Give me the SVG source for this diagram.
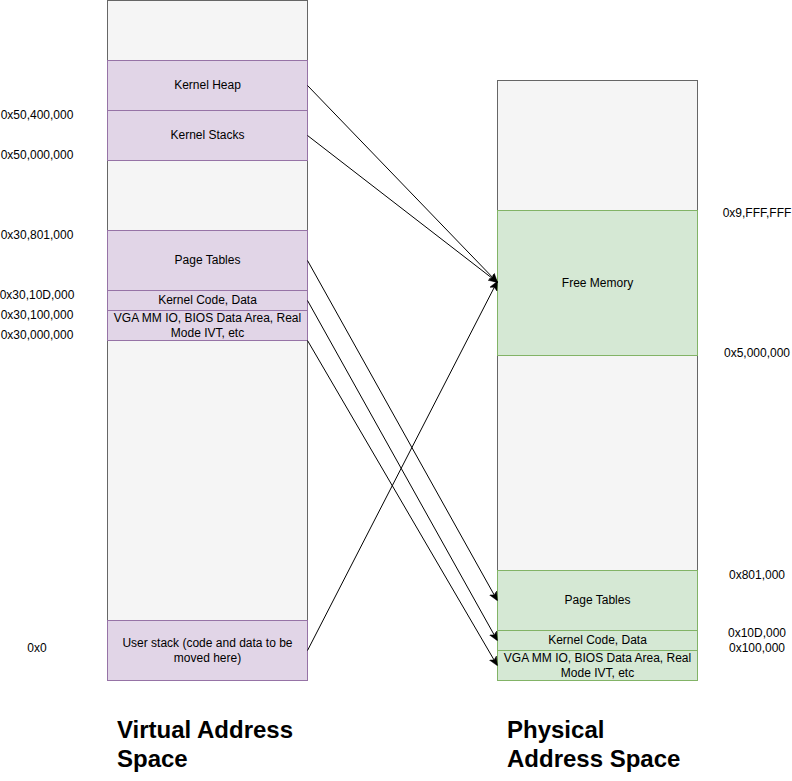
<svg xmlns="http://www.w3.org/2000/svg" width="792" height="781" viewBox="0 0 792 781">
<style>
text{font-family:"Liberation Sans",Arial,sans-serif;font-size:12px;fill:#000}
.c{text-anchor:middle}
.g{fill:#f5f5f5;stroke:#666666}
.p{fill:#e1d5e7;stroke:#9673a6}
.v{fill:#d5e8d4;stroke:#82b366}
.t{font-size:24px;font-weight:bold}
.e{fill:none;stroke:#000;stroke-width:1;marker-end:url(#a)}
</style>
<defs>
<marker id="a" viewBox="0 0 10 10" refX="9" refY="5" markerWidth="9" markerHeight="9" orient="auto" markerUnits="userSpaceOnUse">
<path d="M0,0.5 L10,5 L0,9.5 L2.5,5 Z" fill="#000" stroke="#000" stroke-width="0.5"/>
</marker>
</defs>
<g id="virtual">
<rect class="g" x="107.5" y="0.5" width="200" height="680"/>
</g>
<g id="v-heap"><rect class="p" x="107.5" y="60.5" width="200" height="50"/><text class="c" x="207.5" y="89">Kernel Heap</text></g>
<g id="v-stacks"><rect class="p" x="107.5" y="110.5" width="200" height="50"/><text class="c" x="207.5" y="139">Kernel Stacks</text></g>
<g id="v-pt"><rect class="p" x="107.5" y="230.5" width="200" height="60"/><text class="c" x="207.5" y="264">Page Tables</text></g>
<g id="v-kcode"><rect class="p" x="107.5" y="290.5" width="200" height="20"/><text class="c" x="207.5" y="304">Kernel Code, Data</text></g>
<g id="v-vga"><rect class="p" x="107.5" y="310.5" width="200" height="30"/><text class="c" x="207.5" y="322">VGA MM IO, BIOS Data Area, Real</text><text class="c" x="207.5" y="337">Mode IVT, etc</text></g>
<g id="v-user"><rect class="p" x="107.5" y="620.5" width="200" height="60"/><text class="c" x="207.5" y="647">User stack (code and data to be</text><text class="c" x="207.5" y="662">moved here)</text></g>

<g id="physical">
<rect class="g" x="497.5" y="80.5" width="200" height="600"/>
</g>
<g id="p-free"><rect class="v" x="497.5" y="210.5" width="200" height="145"/><text class="c" x="597.5" y="287">Free Memory</text></g>
<g id="p-pt"><rect class="v" x="497.5" y="570.5" width="200" height="60"/><text class="c" x="597.5" y="604">Page Tables</text></g>
<g id="p-kcode"><rect class="v" x="497.5" y="630.5" width="200" height="20"/><text class="c" x="597.5" y="644">Kernel Code, Data</text></g>
<g id="p-vga"><rect class="v" x="497.5" y="650.5" width="200" height="30"/><text class="c" x="597.5" y="662">VGA MM IO, BIOS Data Area, Real</text><text class="c" x="597.5" y="677">Mode IVT, etc</text></g>

<g id="labels">
<text class="c" x="37" y="119">0x50,400,000</text>
<text class="c" x="37" y="159">0x50,000,000</text>
<text class="c" x="37" y="239">0x30,801,000</text>
<text class="c" x="37" y="299">0x30,10D,000</text>
<text class="c" x="37" y="319">0x30,100,000</text>
<text class="c" x="37" y="339">0x30,000,000</text>
<text class="c" x="37" y="652">0x0</text>
<text class="c" x="757" y="217">0x9,FFF,FFF</text>
<text class="c" x="757" y="357">0x5,000,000</text>
<text class="c" x="757" y="579">0x801,000</text>
<text class="c" x="757" y="637">0x10D,000</text>
<text class="c" x="757" y="652">0x100,000</text>
<text class="t" x="117" y="738">Virtual Address</text>
<text class="t" x="117" y="767">Space</text>
<text class="t" x="507" y="738">Physical</text>
<text class="t" x="507" y="767">Address Space</text>
</g>

<g id="connectors">
<path class="e" d="M307.5,85.5 L497,282"/>
<path class="e" d="M307.5,135.5 L497,282"/>
<path class="e" d="M307.5,260.5 L497,600"/>
<path class="e" d="M307.5,300.5 L497,640"/>
<path class="e" d="M307.5,340.5 L497,665"/>
<path class="e" d="M307.5,650.5 L497,282"/>
</g>
</svg>
